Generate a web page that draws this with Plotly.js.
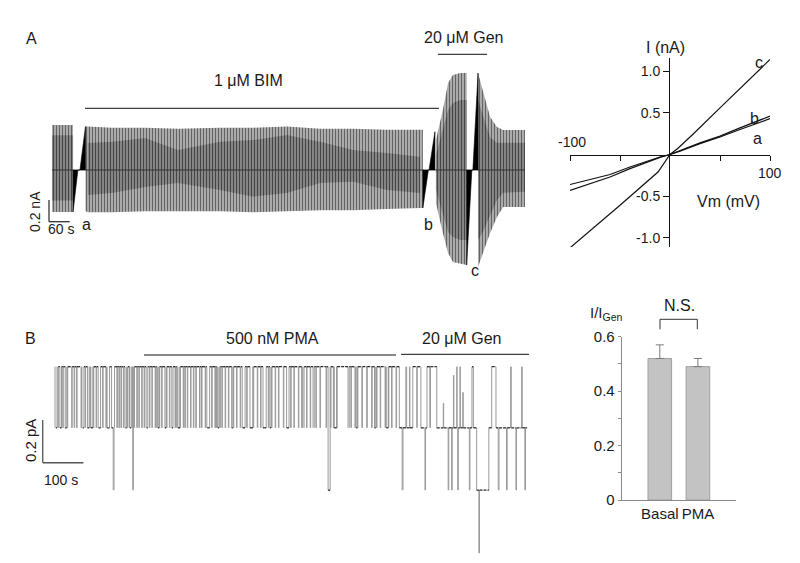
<!DOCTYPE html>
<html><head><meta charset="utf-8">
<script src="https://cdn.plot.ly/plotly-3.0.1.min.js"></script>
<style>html,body{margin:0;padding:0;background:#fff}#chart{width:800px;height:563px}</style>
</head><body><div id="chart"></div>
<script>
// ===== Panel A (left): whole-cell current during repeated voltage ramps; time in s, current in nA
const preT   = [0, 61];
const preUp  = [0.415, 0.415];
const preLo  = [-0.387, -0.387];
const preInUp = [0.32, 0.32];
const preInLo = [-0.28, -0.28];

const bimT  = [97, 104, 174, 270, 365, 487, 583, 681, 777, 873, 971, 1067, 1075];
const bimUp = [0.40, 0.40, 0.39, 0.39, 0.38, 0.39, 0.39, 0.40, 0.38, 0.38, 0.37, 0.37, 0.37];
const bimLo = [-0.38, -0.39, -0.39, -0.38, -0.38, -0.38, -0.39, -0.38, -0.37, -0.37, -0.36, -0.35, -0.35];
const bimInT  = [104, 174, 270, 365, 487, 583, 681, 777, 873, 971, 1067];
const bimInUp = [0.249, 0.261, 0.295, 0.184, 0.261, 0.276, 0.323, 0.261, 0.184, 0.157, 0.123];
const bimInLo = [-0.230, -0.212, -0.157, -0.120, -0.184, -0.246, -0.212, -0.120, -0.108, -0.184, -0.212];

const gen1T   = [1113, 1133, 1148, 1162, 1183, 1202];
const gen1Up  = [0.276, 0.553, 0.80, 0.876, 0.894, 0.894];
const gen1Lo  = [-0.304, -0.58, -0.765, -0.848, -0.866, -0.876];
const gen1InUp = [0.138, 0.387, 0.553, 0.617, 0.645, 0.645];
const gen1InLo = [-0.184, -0.415, -0.571, -0.617, -0.645, -0.645];

const gen2T   = [1235, 1249, 1270, 1290, 1308, 1371];
const gen2Up  = [0.894, 0.737, 0.488, 0.396, 0.369, 0.369];
const gen2Lo  = [-0.894, -0.765, -0.58, -0.433, -0.341, -0.341];
const gen2InUp = [0.645, 0.507, 0.30, 0.25, 0.25, 0.25];
const gen2InLo = [-0.645, -0.571, -0.415, -0.276, -0.21, -0.20];

// expanded ramps a, b, c (time s, current nA)
const rampAT = [61, 61, 75, 81, 97, 97];
const rampAI = [0, -0.387, 0, 0, 0.40, 0];
const rampBT = [1075, 1075, 1091, 1093, 1110, 1110];
const rampBI = [0, -0.35, 0, 0, 0.353, 0];
const rampCT = [1202, 1202, 1217, 1220, 1235, 1235];
const rampCI = [0, -0.876, 0, 0, 0.894, 0];

// ===== Panel A (right): I-V relations (mV, nA)
const ivV  = [-100, -80, -60, -40, -20, -10, 0, 10, 30, 50, 70, 100];
const ivA  = [-0.36, -0.30, -0.24, -0.15, -0.07, -0.03, 0, 0.04, 0.13, 0.21, 0.30, 0.43];
const ivB  = [-0.43, -0.35, -0.27, -0.17, -0.08, -0.035, 0, 0.045, 0.14, 0.22, 0.32, 0.46];
const ivCV = [-100, -50, -12, 0, 8, 24, 50, 100];
const ivC  = [-1.12, -0.61, -0.21, 0, 0.075, 0.255, 0.56, 1.14];

// ===== Panel B (left): single-channel recording; time in s, current in pA
const bLevels = [0, -0.286, -0.578, -0.873];
const bDipT = [2, 7, 12, 19, 25, 30, 41, 47, 53, 64, 68, 74, 86, 94, 101, 107, 117, 125, 131, 139,
  145, 152, 157, 162, 168, 173, 178, 183, 189, 194, 201, 206, 213, 219, 224, 232, 238, 246, 250, 256,
  262, 270, 274, 281, 287, 295, 299, 307, 315, 319, 325, 333, 340, 346, 355, 360, 369, 374, 385, 393,
  397, 405, 410, 418, 426, 438, 446, 455, 461, 471, 479, 487, 497, 505, 514, 524, 532, 541, 549, 561,
  569, 579, 587, 598, 606, 610, 618, 627, 635, 641, 651, 666, 677, 684, 692, 721, 727, 737, 743, 754,
  766, 778, 790, 799, 811, 819, 827, 838];
const bDwell = [[0,5],[12,16],[25,29],[66,71],[80,84],[88,93],[106,112],[128,134],[139,146],[172,176],
  [184,187],[225,228],[253,256],[270,273],[287,290],[302,307],[373,380],[400,403],[434,437],[460,467],
  [479,486],[511,519],[528,531],[569,575],[609,612],[634,637],[671,676],[686,692],[720,723],[740,743],
  [785,788],[814,819]];
const bDeepT = [143, 191, 671];
const genT = [846, 853, 855, 862, 864, 871, 872, 879, 889, 890, 899, 909, 910.5, 914, 921, 922.5, 938,
  954, 955, 966, 967.5, 974.5, 976, 979, 980, 987, 988, 989.5, 991, 995, 996, 1002, 1003, 1018, 1019.5,
  1024.5, 1028, 1036, 1041.5, 1043, 1066, 1073, 1083.5, 1089, 1091, 1109.5, 1111, 1119.5, 1121,
  1132.5, 1134, 1146.5, 1148, 1154.5, 1156, 1160];
const genI = [-0.286, -0.578, -0.286, 0, -0.286, 0, -0.286, 0, -0.286, 0, -0.286, -0.578, -0.286, 0,
  -0.286, 0, -0.286, -0.17, -0.286, -0.578, -0.286, -0.578, -0.286, -0.04, -0.286, 0, -0.286, -0.578,
  -0.286, 0, -0.286, -0.12, -0.286, -0.578, -0.286, 0, -0.286, -0.578, -0.873, -0.578, -0.286, 0,
  -0.286, -0.578, -0.286, -0.578, -0.286, 0, -0.286, -0.578, -0.286, 0, -0.286, -0.578, -0.286, -0.286];

// ===== Panel B (right): bar chart
const barCats = ['Basal', 'PMA'];
const barVals = [0.52, 0.49];
const barErrs = [0.05, 0.03];

// scale bars
const scaleA = {nA: 0.2, s: 60};
const scaleB = {pA: 0.2, s: 100};

// ---------------- build ----------------
const FONT = 'Liberation Sans, Arial, sans-serif';
const W = 800, H = 563;
const px = x => x / W, py = y => 1 - y / H;
const TXT = '#1a1a1a';

function band(T, up, lo, bg, fg) {
  return {x: T.concat(T.slice().reverse()), y: up.concat(lo.slice().reverse()),
    type: 'scatter', mode: 'lines', fill: 'toself', line: {width: 0, color: bg}, fillcolor: bg,
    fillpattern: {shape: '|', size: 3, solidity: 0.3, fgcolor: fg, bgcolor: bg},
    hoverinfo: 'skip', showlegend: false, xaxis: 'x', yaxis: 'y'};
}
function ramp(T, I) {
  return {x: T, y: I, type: 'scatter', mode: 'lines', fill: 'toself', fillcolor: '#000',
    line: {width: 0.6, color: '#000'}, hoverinfo: 'skip', showlegend: false, xaxis: 'x', yaxis: 'y'};
}
const OUT_BG = '#ababab', OUT_FG = '#5c5c5c', IN_BG = '#858585', IN_FG = '#3e3e3e';
const traces = [
  band(preT, preUp, preLo, OUT_BG, OUT_FG),
  band(bimT, bimUp, bimLo, OUT_BG, OUT_FG),
  band(gen1T, gen1Up, gen1Lo, OUT_BG, OUT_FG),
  band(gen2T, gen2Up, gen2Lo, OUT_BG, OUT_FG),
  band(preT, preInUp, preInLo, IN_BG, IN_FG),
  band(bimInT, bimInUp, bimInLo, IN_BG, IN_FG),
  band(gen1T, gen1InUp, gen1InLo, IN_BG, IN_FG),
  band(gen2T, gen2InUp, gen2InLo, IN_BG, IN_FG),
  {x: [preT[0], gen2T[gen2T.length - 1]], y: [0, 0], type: 'scatter', mode: 'lines',
   line: {width: 1, color: '#333'}, hoverinfo: 'skip', showlegend: false, xaxis: 'x', yaxis: 'y'},
  ramp(rampAT, rampAI), ramp(rampBT, rampBI), ramp(rampCT, rampCI)
];

// I-V
[[ivV, ivA], [ivV, ivB], [ivCV, ivC]].forEach(([v, i]) => traces.push({
  x: v, y: i, type: 'scatter', mode: 'lines', line: {width: 1.2, color: '#111'},
  hoverinfo: 'skip', showlegend: false, xaxis: 'x2', yaxis: 'y2'}));

// single channel step trace (built from the event lists)
const ivls = [];
bDipT.forEach(t => ivls.push([t, t + 1.2, bLevels[1]]));
bDwell.forEach(d => ivls.push([d[0], d[1], bLevels[1]]));
bDeepT.forEach(t => ivls.push([t, t + 1.5, bLevels[2]]));
ivls.sort((a, b) => a[0] - b[0]);
const bx = [0], by = [bLevels[0]];
ivls.forEach(([s, e, l]) => {
  let endT = e;
  if (bx[bx.length - 1] > s) { endT = Math.max(endT, bx.pop()); by.pop(); }
  bx.push(s, endT); by.push(l, bLevels[0]);
});
genT.forEach((t, i) => { bx.push(t); by.push(genI[i]); });
// split into dwells (horizontal, drawn dark when long enough to show) and transitions (vertical)
const hx = [], hy = [], vx = [], vy = [];
for (let i = 0; i < bx.length - 1; i++) {
  if (bx[i + 1] - bx[i] >= 2.5) { hx.push(bx[i], bx[i + 1], null); hy.push(by[i], by[i], null); }
  vx.push(bx[i + 1], bx[i + 1], null); vy.push(by[i], by[i + 1], null);
}
traces.push({x: vx, y: vy, type: 'scatter', mode: 'lines', line: {width: 1, color: '#9a9a9a'},
  hoverinfo: 'skip', showlegend: false, xaxis: 'x3', yaxis: 'y3'});
traces.push({x: hx, y: hy, type: 'scatter', mode: 'lines', line: {width: 1.3, color: '#2a2a2a', dash: '3px,1px'},
  hoverinfo: 'skip', showlegend: false, xaxis: 'x3', yaxis: 'y3'});

// bars
traces.push({x: barCats, y: barVals, type: 'bar', width: 0.62,
  marker: {color: '#c3c3c3', line: {color: '#a0a0a0', width: 1}},
  error_y: {type: 'data', symmetric: false, array: barErrs, arrayminus: [0, 0], color: '#7a7a7a', thickness: 1, width: 4},
  hoverinfo: 'skip', showlegend: false, xaxis: 'x4', yaxis: 'y4'});

const hidden = {visible: false, showgrid: false, zeroline: false, fixedrange: true};
const layout = {
  width: W, height: H, margin: {l: 0, r: 0, t: 0, b: 0}, paper_bgcolor: '#fff', plot_bgcolor: 'rgba(0,0,0,0)',
  font: {family: FONT, color: TXT}, showlegend: false,
  xaxis: Object.assign({domain: [px(40), px(530)], range: [-34.8, 1385.6], anchor: 'y'}, hidden),
  yaxis: Object.assign({domain: [py(280), py(60)], range: [-1.0138, 1.0138], anchor: 'x'}, hidden),
  xaxis2: {domain: [px(570), px(770)], range: [-100, 100], anchor: 'free', position: py(155),
    showline: true, linecolor: '#111', linewidth: 1, ticks: 'outside', ticklen: 5, tickcolor: '#111',
    tickvals: [-100, -50, 50, 100], showticklabels: false, showgrid: false, zeroline: false, fixedrange: true},
  yaxis2: {domain: [py(247), py(58)], range: [-1.110, 1.158], anchor: 'free', position: px(669),
    showline: true, linecolor: '#111', linewidth: 1, ticks: 'outside', ticklen: 6, tickcolor: '#111',
    tickvals: [-1, -0.5, 0.5, 1], ticktext: ['-1.0', '-0.5', '0.5', '1.0'], tickfont: {size: 14, color: TXT},
    showgrid: false, zeroline: false, fixedrange: true},
  xaxis3: Object.assign({domain: [px(40), px(530)], range: [-36.9, 1167.1], anchor: 'y3'}, hidden),
  yaxis3: Object.assign({domain: [py(560), py(340)], range: [-0.905, 0.125], anchor: 'x3'}, hidden),
  xaxis4: {domain: [px(621.7), px(736)], type: 'category', range: [-1, 2], anchor: 'y4',
    showline: true, linecolor: '#8a8a8a', linewidth: 1, ticks: '', tickfont: {size: 15, color: TXT},
    showgrid: false, zeroline: false, fixedrange: true},
  yaxis4: {domain: [py(500), py(336.7)], range: [0, 0.6], anchor: 'x4',
    showline: true, linecolor: '#8a8a8a', linewidth: 1, ticks: 'outside', ticklen: 3, tickcolor: '#8a8a8a',
    tickvals: [0, 0.2, 0.4, 0.6], ticktext: ['0', '0.2', '0.4', '0.6'], tickfont: {size: 15, color: TXT},
    minor: {tickvals: [0.1, 0.3, 0.5], ticks: 'outside', ticklen: 3, tickcolor: '#8a8a8a'},
    showgrid: false, zeroline: false, fixedrange: true},
  shapes: [], annotations: []
};

const S = layout.shapes, A = layout.annotations;
const pline = (x0, y0, x1, y1, color, w) => S.push({type: 'line', xref: 'paper', yref: 'paper',
  x0: px(x0), y0: py(y0), x1: px(x1), y1: py(y1), line: {color: color || '#111', width: w || 1}});
S.push({type: 'line', xref: 'x', yref: 'y', x0: -8.7, x1: -8.7, y0: -0.2765, y1: -0.2765 - scaleA.nA, line: {color: '#333', width: 1.3}});
S.push({type: 'line', xref: 'x', yref: 'y', x0: -8.7, x1: -8.7 + scaleA.s, y0: -0.2765 - scaleA.nA, y1: -0.2765 - scaleA.nA, line: {color: '#333', width: 1.3}});
S.push({type: 'line', xref: 'x3', yref: 'y3', x0: -30.2, x1: -30.2, y0: -0.2497, y1: -0.2497 - scaleB.pA, line: {color: '#555', width: 1.3}});
S.push({type: 'line', xref: 'x3', yref: 'y3', x0: -30.2, x1: -30.2 + scaleB.s, y0: -0.2497 - scaleB.pA, y1: -0.2497 - scaleB.pA, line: {color: '#555', width: 1.3}});
pline(85, 108.3, 439, 108.3);
pline(438, 54.3, 487, 54.3);
pline(144, 355, 396, 355);
pline(401, 354.3, 529, 354.3);
S.push({type: 'path', xref: 'paper', yref: 'paper', line: {color: '#333', width: 1},
  path: `M ${px(660)} ${py(329.3)} L ${px(660)} ${py(319.3)} L ${px(697.3)} ${py(319.3)} L ${px(697.3)} ${py(329.3)}`});

const ann = (text, x, y, size, extra) => A.push(Object.assign({text, x: px(x), y: py(y), xref: 'paper', yref: 'paper',
  showarrow: false, xanchor: 'center', yanchor: 'middle', font: {size, color: TXT, family: FONT}}, extra || {}));
ann('A', 31, 39, 16);
ann('B', 30, 338, 16);
ann('1 μM BIM', 248, 80, 16);
ann('20 μM Gen', 464, 38, 16);
ann('0.2 nA', 35, 212, 14, {textangle: -90});
ann('60 s', 61, 229, 14);
ann('a', 86, 224, 16);
ann('b', 428, 224, 16);
ann('c', 475, 271, 16);
ann('I (nA)', 665, 48, 16);
ann('Vm (mV)', 728, 202, 16);
ann('c', 759, 62, 16);
ann('b', 754, 118, 16);
ann('a', 757, 138, 16);
ann('-100', 572, 142, 14);
ann('100', 770, 173, 14);
ann('500 nM PMA', 272, 338, 16);
ann('20 μM Gen', 461, 338, 16);
ann('0.2 pA', 30, 441, 15, {textangle: -90});
ann('100 s', 61, 480, 14);
ann('N.S.', 679, 305, 16);
ann('I/I<sub>Gen</sub>', 606, 313, 15);

Plotly.newPlot('chart', traces, layout, {staticPlot: true, displayModeBar: false});
</script></body></html>
